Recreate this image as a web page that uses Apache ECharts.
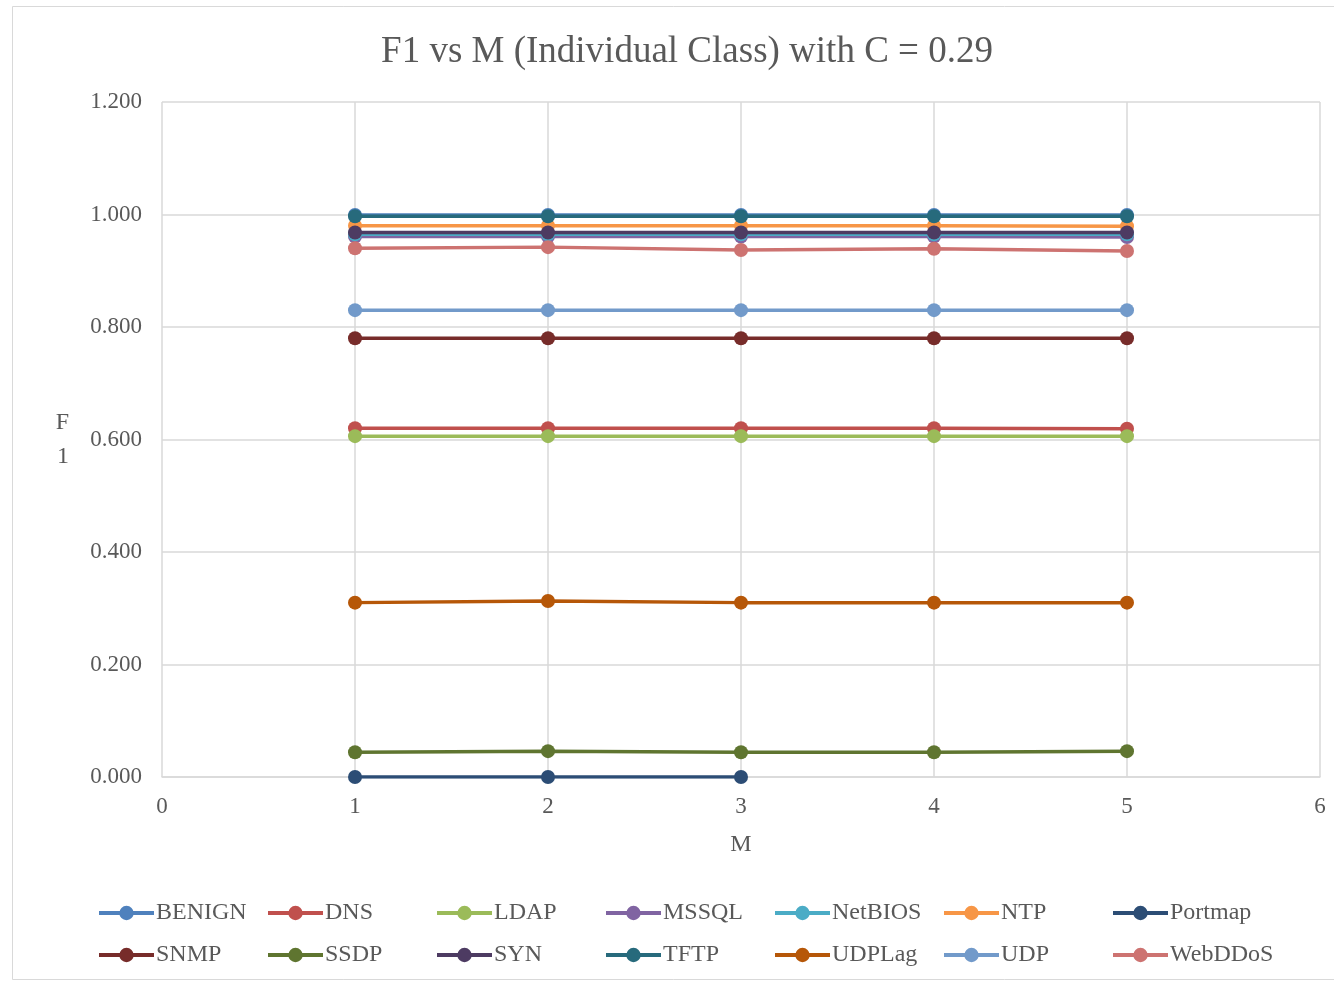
<!DOCTYPE html>
<html>
<head>
<meta charset="utf-8">
<style>
  html, body { margin: 0; padding: 0; background: #ffffff; }
  #chart { width: 1334px; height: 982px; }
</style>
<script src="https://cdn.jsdelivr.net/npm/echarts@6/dist/echarts.min.js"></script>
</head>
<body>
<div id="chart"></div>
<script>
// M values on the x axis
const mValues = [1, 2, 3, 4, 5];

// F1 score per class for each M
const BENIGN  = [0.999, 0.999, 0.999, 0.999, 0.999];
const DNS     = [0.620, 0.620, 0.620, 0.620, 0.619];
const LDAP    = [0.606, 0.606, 0.606, 0.606, 0.606];
const MSSQL   = [0.961, 0.961, 0.961, 0.961, 0.960];
const NetBIOS = [0.965, 0.965, 0.965, 0.965, 0.965];
const NTP     = [0.980, 0.980, 0.980, 0.980, 0.979];
const Portmap = [0.000, 0.000, 0.000, null, null];
const SNMP    = [0.780, 0.780, 0.780, 0.780, 0.780];
const SSDP    = [0.044, 0.046, 0.044, 0.044, 0.046];
const SYN     = [0.968, 0.968, 0.968, 0.968, 0.968];
const TFTP    = [0.997, 0.997, 0.997, 0.997, 0.997];
const UDPLag  = [0.310, 0.313, 0.310, 0.310, 0.310];
const UDP     = [0.830, 0.830, 0.830, 0.830, 0.830];
const WebDDoS = [0.940, 0.942, 0.937, 0.939, 0.935];

const classNames = ['BENIGN', 'DNS', 'LDAP', 'MSSQL', 'NetBIOS', 'NTP', 'Portmap',
                    'SNMP', 'SSDP', 'SYN', 'TFTP', 'UDPLag', 'UDP', 'WebDDoS'];
const classData = [BENIGN, DNS, LDAP, MSSQL, NetBIOS, NTP, Portmap,
                   SNMP, SSDP, SYN, TFTP, UDPLag, UDP, WebDDoS];
const classColors = ['#4F81BD', '#C0504D', '#9BBB59', '#8064A2', '#4BACC6', '#F79646', '#2C4D75',
                     '#772C2A', '#5F7530', '#4D3B62', '#276A7C', '#B65708', '#729ACA', '#CD7371'];

// y-axis tick labels
const yTicks = ['0.000', '0.200', '0.400', '0.600', '0.800', '1.000', '1.200'];

const FONT = '"Liberation Serif", "Times New Roman", serif';
const TEXT_COLOR = '#595959';

const series = classNames.map((name, i) => ({
  name: name,
  type: 'line',
  data: mValues.map((m, j) => [m, classData[i][j]]),
  symbol: 'circle',
  symbolSize: 14,
  showSymbol: true,
  connectNulls: false,
  lineStyle: { width: 3.5, color: classColors[i] },
  itemStyle: { color: classColors[i] },
  emphasis: { disabled: true },
  z: 2 + i
}));

// one legend block per class, laid out in a 7 x 2 table
const legends = classNames.map((name, i) => ({
  data: [name],
  left: 97 + (i % 7) * 169,
  top: (i < 7 ? 912 : 954) - 11,
  itemWidth: 55,
  itemHeight: 18,
  itemGap: 0,
  padding: 0,
  selectedMode: false,
  lineStyle: { width: 4 },
  textStyle: { fontFamily: FONT, fontSize: 24, color: TEXT_COLOR, padding: [0, 0, 0, -3] }
}));

const chart = echarts.init(document.getElementById('chart'), null, { renderer: 'canvas' });
chart.setOption({
  backgroundColor: '#ffffff',
  animation: false,
  title: {
    text: 'F1 vs M (Individual Class) with C = 0.29',
    left: 682,
    textAlign: 'center',
    top: 29,
    textStyle: { fontFamily: FONT, fontSize: 37, fontWeight: 'normal', color: TEXT_COLOR }
  },
  graphic: [{
    type: 'rect',
    shape: { x: 12.5, y: 6.5, width: 1340, height: 973 },
    style: { fill: 'none', stroke: '#d9d9d9', lineWidth: 1 },
    silent: true,
    z: -1
  }],
  legend: legends,
  grid: { left: 162, right: 14, top: 102, bottom: 205, containLabel: false },
  xAxis: {
    type: 'value',
    min: 0,
    max: 6,
    interval: 1,
    name: 'M',
    nameLocation: 'middle',
    nameGap: 56,
    nameTextStyle: { fontFamily: FONT, fontSize: 24, color: TEXT_COLOR },
    axisLine: { show: true, lineStyle: { color: '#d9d9d9', width: 1.5 } },
    axisTick: { show: false },
    axisLabel: { fontFamily: FONT, fontSize: 23, color: TEXT_COLOR, margin: 18 },
    splitLine: { show: true, lineStyle: { color: '#d9d9d9', width: 1.5 } }
  },
  yAxis: {
    type: 'value',
    min: 0,
    max: 1.2,
    interval: 0.2,
    name: 'F\n1',
    nameLocation: 'middle',
    nameGap: 93,
    nameRotate: 0,
    nameTextStyle: { fontFamily: FONT, fontSize: 24, color: TEXT_COLOR, lineHeight: 34, padding: [10, 0, 0, 0] },
    axisLine: { show: false },
    axisTick: { show: false },
    axisLabel: {
      fontFamily: FONT, fontSize: 23, color: TEXT_COLOR, margin: 20,
      formatter: (v) => yTicks[Math.round(v / 0.2)]
    },
    splitLine: { show: true, lineStyle: { color: '#d9d9d9', width: 1.5 } }
  },
  series: series
});
</script>
</body>
</html>
